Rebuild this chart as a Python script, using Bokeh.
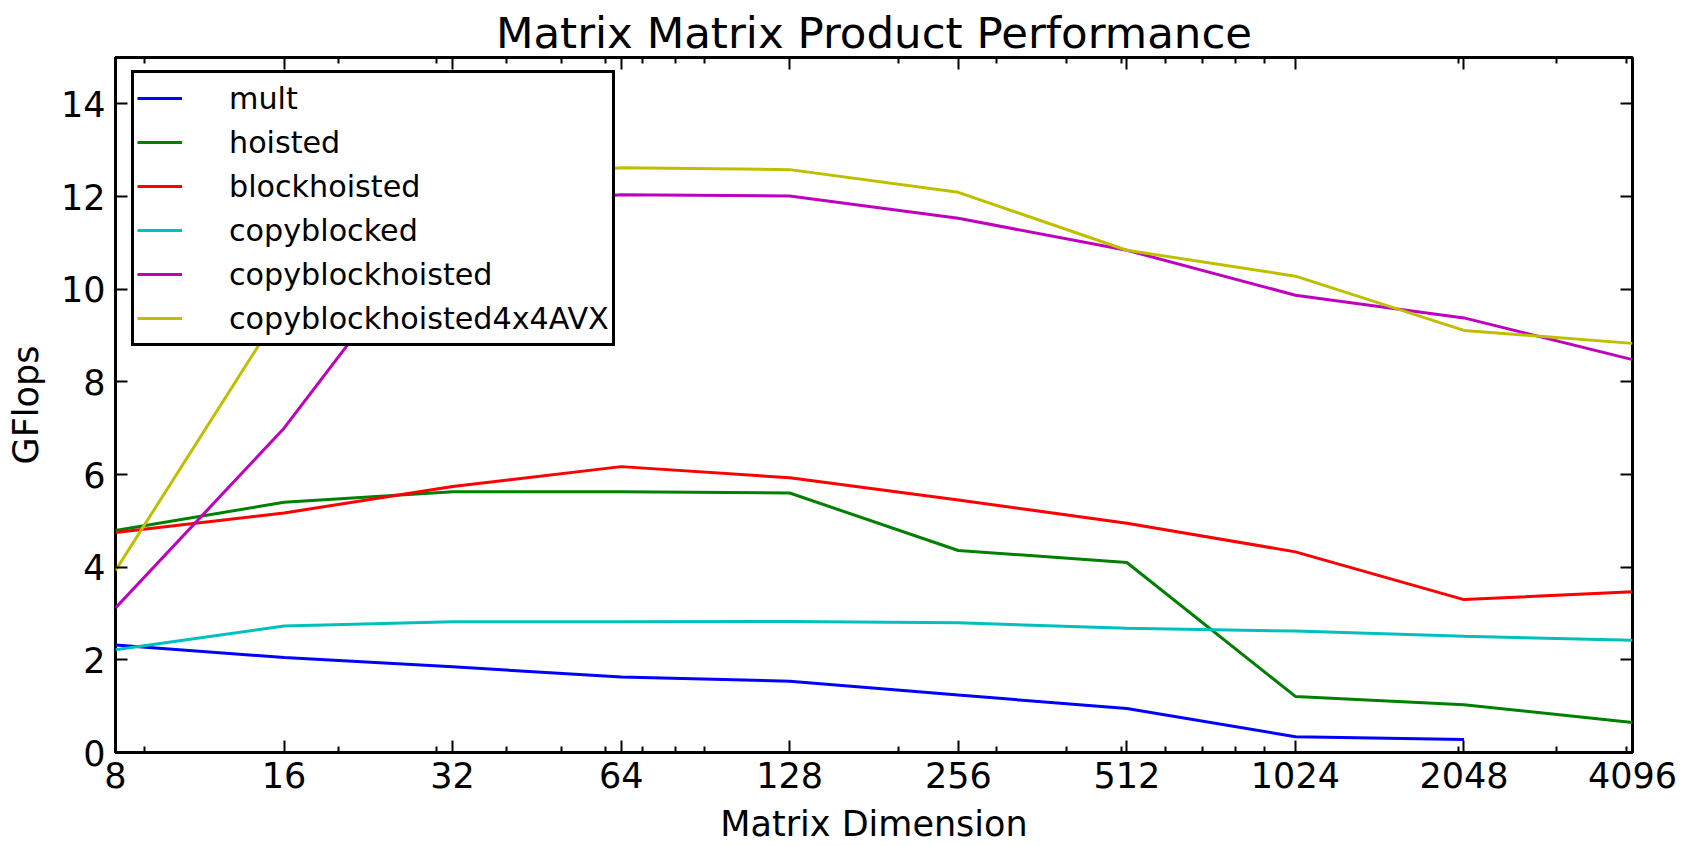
from bokeh.plotting import figure
from bokeh.models import (FixedTicker, LogAxis, LinearAxis, Legend, LegendItem,
                          Range1d)
from bokeh.embed import file_html
from bokeh.resources import INLINE

# ---- data -------------------------------------------------------------
sizes = [8, 16, 32, 64, 128, 256, 512, 1024, 2048, 4096]
size_labels = ["8", "16", "32", "64", "128", "256", "512", "1024", "2048", "4096"]
minor_sizes = [9, 20, 30, 40, 50, 60, 70, 80, 90,
               200, 300, 400, 500, 600, 700, 800, 900,
               2000, 3000, 4000]
gflops_ticks = [0, 2, 4, 6, 8, 10, 12, 14]

mult = [2.32, 2.05, 1.85, 1.63, 1.54, 1.24, 0.95, 0.34, 0.28]
hoisted = [4.79, 5.40, 5.63, 5.63, 5.60, 4.36, 4.10, 1.21, 1.03, 0.65]
blockhoisted = [4.75, 5.17, 5.74, 6.17, 5.93, 5.45, 4.95, 4.33, 3.30, 3.47]
copyblocked = [2.22, 2.73, 2.82, 2.82, 2.83, 2.80, 2.68, 2.62, 2.51, 2.42]
copyblockhoisted = [3.12, 7.00, 11.77, 12.04, 12.01, 11.53, 10.84, 9.87, 9.38, 8.48]
copyblockhoisted4x4AVX = [3.93, 9.65, 12.30, 12.62, 12.58, 12.09, 10.84, 10.28, 9.11, 8.83]

series_names = ["mult", "hoisted", "blockhoisted", "copyblocked",
                "copyblockhoisted", "copyblockhoisted4x4AVX"]
series_values = [mult, hoisted, blockhoisted, copyblocked,
                 copyblockhoisted, copyblockhoisted4x4AVX]
series_colors = ["#0000ff", "#008000", "#ff0000", "#00bfbf", "#bf00bf", "#bfbf00"]

FONT = "DejaVu Sans"

# ---- figure -----------------------------------------------------------
p = figure(width=1692, height=846, x_axis_type="log",
           x_range=Range1d(sizes[0], sizes[-1]), y_range=Range1d(0, 15),
           output_backend="svg", toolbar_location=None,
           min_border_left=115, min_border_right=60,
           min_border_top=57, min_border_bottom=93,
           background_fill_color="white", border_fill_color="white")

p.title.text = "Matrix Matrix Product Performance"
p.title.align = "center"
p.title.text_font = FONT
p.title.text_font_size = "43.5px"
p.title.text_font_style = "normal"
p.title.text_color = "black"
p.title.standoff = 0
p.title.offset = 6

p.xgrid.visible = False
p.ygrid.visible = False
p.outline_line_color = "black"
p.outline_line_width = 3
p.outline_line_alpha = 1

xticker = FixedTicker(ticks=sizes, minor_ticks=minor_sizes)
yticker = FixedTicker(ticks=gflops_ticks, minor_ticks=[])


def style_axis(ax, show_labels):
    ax.axis_line_color = None
    ax.major_tick_in = 12
    ax.major_tick_out = 0
    ax.minor_tick_in = 6
    ax.minor_tick_out = 0
    ax.major_tick_line_width = 2
    ax.minor_tick_line_width = 2
    ax.major_tick_line_color = "black"
    ax.minor_tick_line_color = "black"
    if show_labels:
        ax.major_label_text_font = FONT
        ax.major_label_text_font_size = "35px"
        ax.major_label_text_color = "black"
        ax.axis_label_text_font = FONT
        ax.axis_label_text_font_size = "35px"
        ax.axis_label_text_font_style = "normal"
        ax.axis_label_text_color = "black"
    else:
        ax.major_label_text_font_size = "0px"
        ax.major_label_text_color = None
        ax.major_label_standoff = 0


xax = p.xaxis[0]
xax.ticker = xticker
xax.major_label_overrides = {s: l for s, l in zip(sizes, size_labels)}
style_axis(xax, True)
xax.major_label_standoff = 9
xax.axis_label = "Matrix Dimension"
xax.axis_label_standoff = 13

yax = p.yaxis[0]
yax.ticker = yticker
style_axis(yax, True)
yax.major_label_standoff = 10
yax.axis_label = "GFlops"
yax.axis_label_standoff = 12

top_ax = LogAxis(ticker=xticker)
style_axis(top_ax, False)
p.add_layout(top_ax, "above")

right_ax = LinearAxis(ticker=yticker)
style_axis(right_ax, False)
p.add_layout(right_ax, "right")

# ---- lines ------------------------------------------------------------
items = []
for name, vals, col in zip(series_names, series_values, series_colors):
    r = p.line(sizes[:len(vals)], vals, line_color=col, line_width=3)
    items.append(LegendItem(label=name, renderers=[r]))

legend = Legend(items=items, location=(16, 406), margin=0,
                padding=3, spacing=0,
                glyph_width=45, glyph_height=44, label_height=44,
                label_standoff=47,
                label_text_font=FONT, label_text_font_size="30.2px",
                label_text_color="black",
                border_line_color="black", border_line_width=3,
                border_line_alpha=1,
                background_fill_color="white", background_fill_alpha=1)
p.add_layout(legend, "center")

open("out.html", "w").write(file_html(p, INLINE))
